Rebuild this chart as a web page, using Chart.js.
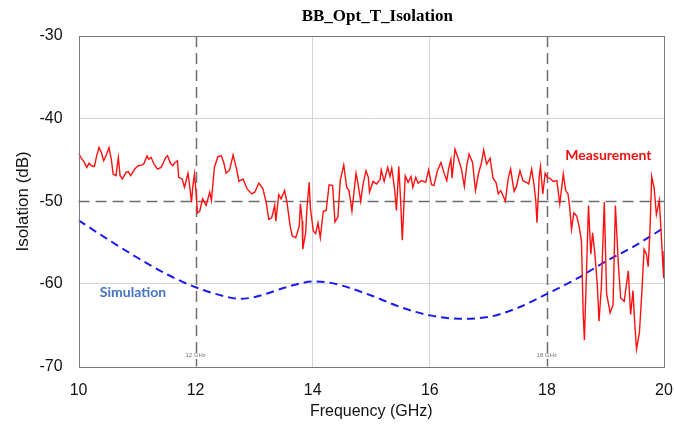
<!DOCTYPE html>
<html lang="en">
<head>
  <meta charset="UTF-8">
  <title>BB_Opt_T_Isolation</title>
  <style>
    html, body { margin: 0; padding: 0; background: #fff; }
    #wrap { width: 674px; height: 425px; }
  </style>
  <script src="https://cdn.jsdelivr.net/npm/chart.js"></script>
</head>
<body>
<div id="wrap"><canvas id="grafico" width="674" height="425"></canvas></div>
<script>
  const measFreq = [
    10.00, 10.05, 10.10, 10.14, 10.18, 10.22, 10.27, 10.31, 10.35, 10.39, 10.43, 10.48, 10.52, 10.56, 10.59, 10.64,
    10.68, 10.71, 10.75, 10.81, 10.85, 10.89, 10.96, 11.02, 11.09, 11.12, 11.17, 11.20, 11.24, 11.29, 11.35, 11.41,
    11.45, 11.49, 11.52, 11.57, 11.61, 11.65, 11.69, 11.71, 11.77, 11.81, 11.87, 11.90, 11.93, 11.95, 11.98, 12.01,
    12.03, 12.07, 12.12, 12.18, 12.24, 12.27, 12.32, 12.38, 12.44, 12.48, 12.52, 12.58, 12.64, 12.70, 12.74, 12.81,
    12.88, 12.96, 13.01, 13.08, 13.15, 13.21, 13.25, 13.30, 13.35, 13.37, 13.42, 13.46, 13.52, 13.56, 13.61, 13.65,
    13.71, 13.77, 13.79, 13.82, 13.83, 13.88, 13.90, 13.94, 13.96, 14.01, 14.05, 14.09, 14.13, 14.18, 14.23, 14.28,
    14.34, 14.38, 14.43, 14.47, 14.53, 14.58, 14.62, 14.67, 14.74, 14.77, 14.82, 14.86, 14.91, 14.95, 14.97, 15.03,
    15.09, 15.15, 15.17, 15.22, 15.28, 15.32, 15.35, 15.40, 15.43, 15.47, 15.50, 15.53, 15.56, 15.58, 15.63, 15.68,
    15.71, 15.76, 15.80, 15.86, 15.93, 15.98, 16.03, 16.07, 16.13, 16.19, 16.24, 16.29, 16.32, 16.36, 16.38, 16.43,
    16.48, 16.54, 16.59, 16.63, 16.67, 16.73, 16.78, 16.83, 16.88, 16.92, 16.97, 17.03, 17.08, 17.13, 17.17, 17.21,
    17.25, 17.29, 17.34, 17.38, 17.44, 17.48, 17.54, 17.59, 17.65, 17.69, 17.74, 17.78, 17.81, 17.83, 17.87, 17.89,
    17.93, 17.97, 18.01, 18.05, 18.11, 18.17, 18.22, 18.28, 18.32, 18.36, 18.39, 18.42, 18.46, 18.51, 18.55, 18.59,
    18.62, 18.64, 18.67, 18.71, 18.75, 18.78, 18.82, 18.86, 18.89, 18.93, 18.98, 19.02, 19.08, 19.13, 19.17, 19.22,
    19.26, 19.32, 19.39, 19.43, 19.47, 19.50, 19.53, 19.58, 19.62, 19.66, 19.70, 19.73, 19.76, 19.79, 19.83, 19.87,
    19.92, 19.95, 19.98, 19.995, 20.00
  ];
  const measDb = [
    -44.2, -44.8, -45.3, -45.9, -45.4, -45.7, -45.8, -44.5, -43.5, -44.1, -45.1, -44.3, -43.5, -44.9, -46.7, -46.9,
    -44.7, -46.9, -47.3, -46.5, -46.4, -46.9, -46.1, -45.7, -45.6, -45.4, -44.5, -44.9, -44.7, -45.5, -46.1, -45.9,
    -45.3, -44.7, -44.5, -45.4, -45.7, -45.3, -45.1, -47.1, -47.3, -48.3, -46.6, -48.3, -50.1, -48.3, -46.7, -49.1,
    -51.4, -51.2, -49.7, -50.5, -48.9, -49.9, -45.9, -44.6, -44.5, -45.3, -46.6, -46.2, -44.4, -46.1, -47.6, -47.3,
    -48.5, -49.1, -48.9, -47.8, -48.5, -50.3, -52.2, -52.0, -50.5, -52.4, -49.2, -49.7, -48.7, -50.1, -52.8, -54.2,
    -54.4, -53.0, -50.3, -52.4, -55.8, -53.8, -51.0, -47.7, -50.8, -53.6, -53.9, -52.6, -54.4, -51.2, -51.1, -48.0,
    -48.1, -52.5, -51.9, -47.5, -45.6, -48.3, -48.7, -51.2, -46.6, -47.7, -50.0, -47.9, -46.3, -47.1, -48.9, -47.6,
    -47.9, -47.4, -46.2, -47.6, -45.9, -47.0, -46.0, -48.6, -51.1, -45.8, -49.7, -54.7, -50.1, -46.9, -47.7, -47.0,
    -48.3, -47.1, -47.8, -47.5, -47.7, -46.2, -48.0, -48.1, -46.3, -45.3, -46.5, -47.5, -46.1, -44.9, -47.2, -43.7,
    -44.7, -46.1, -48.2, -45.7, -44.3, -45.3, -48.7, -46.7, -45.4, -43.8, -45.5, -44.8, -47.2, -47.7, -49.1, -48.7,
    -49.3, -50.0, -47.2, -46.1, -48.8, -48.2, -46.3, -47.5, -47.7, -47.9, -46.1, -48.0, -49.9, -52.6, -46.9, -45.8,
    -49.1, -46.6, -47.2, -47.2, -47.6, -47.5, -50.3, -46.7, -48.7, -49.1, -50.8, -53.4, -51.4, -51.8, -53.0, -54.8,
    -63.7, -66.8, -60.0, -50.5, -56.4, -53.8, -56.4, -60.0, -64.5, -60.4, -50.1, -61.2, -63.5, -62.5, -50.5, -57.6,
    -61.7, -62.1, -58.4, -63.7, -60.8, -64.7, -67.9, -65.9, -61.2, -55.8, -56.4, -57.9, -53.6, -47.0, -48.3, -51.6,
    -49.9, -53.6, -57.6, -59.3, -56.0
  ];

  // simulated isolation (GHz, dB)
  const simFreq = [10, 10.5, 11, 11.5, 12, 12.5, 12.75, 13, 13.5, 13.75, 14, 14.25, 14.5, 15, 15.5, 16, 16.5, 17, 17.5, 18, 18.5, 19, 19.5, 20];
  const simDb   = [-52.3, -54.6, -56.8, -58.8, -60.4, -61.5, -61.8, -61.6, -60.5, -60.0, -59.7, -59.8, -60.2, -61.4, -62.8, -63.8, -64.2, -64.0, -62.9, -61.2, -59.4, -57.3, -55.4, -53.2];

  const xTicks = [10, 12, 14, 16, 18, 20];
  const yTicks = [-30, -40, -50, -60, -70];
  const markerFreqs = [12, 18];
  const markerLabels = ['12 GHz', '18 GHz'];
  const limitDb = -50;

  const toXY = (xs, ys) => xs.map((x, i) => ({ x: x, y: ys[i] }));

  // dashed markers, limit line, frame and annotations
  const extras = {
    id: 'extras',
    beforeDatasetsDraw(chart) {
      const c = chart.ctx, a = chart.chartArea;
      const sx = chart.scales.x, sy = chart.scales.y;
      c.save();
      c.strokeStyle = '#6e6e6e';
      c.lineWidth = 1.5;
      c.setLineDash([11, 6]);
      markerFreqs.forEach(f => {
        const px = Math.round(sx.getPixelForValue(f)) + 0.5;
        c.beginPath(); c.moveTo(px, a.top); c.lineTo(px, a.bottom); c.stroke();
      });
      const py = Math.round(sy.getPixelForValue(limitDb)) + 0.5;
      c.beginPath(); c.moveTo(a.left, py); c.lineTo(a.right, py); c.stroke();
      c.setLineDash([]);
      c.font = '6px "Liberation Sans", Arial, sans-serif';
      c.fillStyle = '#777';
      c.textAlign = 'center';
      c.textBaseline = 'middle';
      markerFreqs.forEach((f, i) => {
        c.fillText(markerLabels[i], sx.getPixelForValue(f), a.bottom - 11);
      });
      c.restore();
    },
    afterDraw(chart) {
      const c = chart.ctx, a = chart.chartArea;
      c.save();
      c.strokeStyle = '#7a7a7a';
      c.lineWidth = 1;
      c.strokeRect(Math.round(a.left) + 0.5, Math.round(a.top) + 0.5, Math.round(a.right - a.left), Math.round(a.bottom - a.top));
      c.textAlign = 'center';
      c.textBaseline = 'middle';
      c.fillStyle = '#000';
      c.font = 'bold 17px "Liberation Serif", "Times New Roman", serif';
      c.fillText('BB_Opt_T_Isolation', (a.left + a.right) / 2 + 6, 17);
      c.font = 'bold 14px Lato, "Open Sans", sans-serif';
      c.fillStyle = '#ee1111';
      c.fillText('Measurement', chart.scales.x.getPixelForValue(19.05), chart.scales.y.getPixelForValue(-44.5));
      c.fillStyle = '#4472c4';
      c.fillText('Simulation', chart.scales.x.getPixelForValue(10.93), chart.scales.y.getPixelForValue(-61.0));
      c.restore();
    }
  };

  const ctx = document.getElementById('grafico').getContext('2d');
  new Chart(ctx, {
    type: 'line',
    data: {
      datasets: [
        {
          label: 'Measurement',
          data: toXY(measFreq, measDb),
          borderColor: '#ff1010',
          borderWidth: 1.4,
          pointRadius: 0,
          tension: 0
        },
        {
          label: 'Simulation',
          data: toXY(simFreq, simDb),
          borderColor: '#1a1aee',
          borderWidth: 2,
          borderDash: [8, 5],
          pointRadius: 0,
          cubicInterpolationMode: 'monotone'
        }
      ]
    },
    plugins: [extras],
    options: {
      responsive: false,
      animation: false,
      layout: { padding: { top: 36, right: 0, left: 13, bottom: 4 } },
      plugins: {
        legend: { display: false },
        tooltip: { enabled: false }
      },
      scales: {
        x: {
          type: 'linear',
          min: 10, max: 20,
          afterBuildTicks: s => { s.ticks = xTicks.map(v => ({ value: v })); },
          afterFit: s => { s.paddingRight = 10; },
          grid: {
            drawTicks: false,
            color: c => (markerFreqs.includes(c.tick.value) || c.tick.value === 10 || c.tick.value === 20) ? 'rgba(0,0,0,0)' : '#d4d4d4'
          },
          border: { display: false },
          ticks: { padding: 14, color: '#111', font: { family: '"Liberation Sans", Arial, sans-serif', size: 16 } },
          title: { display: true, text: 'Frequency (GHz)', color: '#111', padding: { top: -12, bottom: 0 }, font: { family: '"Liberation Sans", Arial, sans-serif', size: 16 } }
        },
        y: {
          min: -70, max: -30,
          afterBuildTicks: s => { s.ticks = yTicks.map(v => ({ value: v })); },
          grid: {
            drawTicks: false,
            color: c => (c.tick.value === limitDb || c.tick.value === -30 || c.tick.value === -70) ? 'rgba(0,0,0,0)' : '#d4d4d4'
          },
          border: { display: false },
          ticks: { padding: 16, color: '#111', font: { family: '"Liberation Sans", Arial, sans-serif', size: 16 } },
          title: { display: true, text: 'Isolation (dB)', color: '#111', padding: { top: 0, bottom: -10 }, font: { family: '"Liberation Sans", Arial, sans-serif', size: 17 } }
        }
      }
    }
  });
</script>
</body>
</html>
